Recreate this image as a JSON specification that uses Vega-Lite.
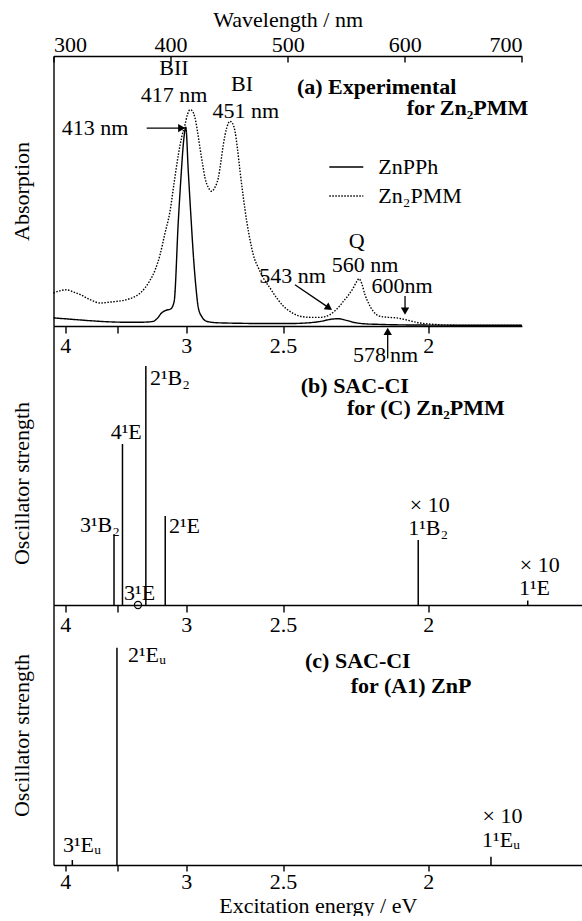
{
  "$schema": "https://vega.github.io/schema/vega-lite/v6.json",
  "background": "white",
  "padding": {"left": 10.5, "top": 8, "right": 0, "bottom": 0},
  "autosize": {"type": "pad"},
  "spacing": 0,
  "bounds": "flush",
  "resolve": {"scale": {"x": "independent", "y": "independent"}},
  "config": {
    "font": "Liberation Serif",
    "view": {"stroke": null},
    "axis": {"grid": false, "labelFont": "Liberation Serif", "labelFontSize": 22, "titleFont": "Liberation Serif", "titleFontSize": 22, "titleFontWeight": "normal", "domainColor": "black", "tickColor": "black", "labelColor": "black", "titleColor": "black", "domainWidth": 1.4, "tickWidth": 1.4},
    "text": {"font": "Liberation Serif", "fontSize": 22, "color": "black"},
    "legend": {"labelFont": "Liberation Serif", "labelFontSize": 22, "labelColor": "black"}
  },
  "vconcat": [
    {
      "width": 468.4,
      "height": 270,
      "encoding": {
        "y": {"field": "abs", "type": "quantitative", "scale": {"domain": [0, 1], "nice": false, "zero": false}, "axis": {"title": "Absorption", "labels": false, "ticks": false, "titlePadding": 20}}
      },
      "resolve": {"axis": {"x": "independent"}},
      "layer": [
        {
          "data": {"values": [
            {"series": "ZnPPh", "nm": 300, "abs": 0.030}, {"series": "ZnPPh", "nm": 315, "abs": 0.025}, {"series": "ZnPPh", "nm": 330, "abs": 0.020}, {"series": "ZnPPh", "nm": 345, "abs": 0.016}, {"series": "ZnPPh", "nm": 360, "abs": 0.014}, {"series": "ZnPPh", "nm": 375, "abs": 0.014}, {"series": "ZnPPh", "nm": 385, "abs": 0.017}, {"series": "ZnPPh", "nm": 389, "abs": 0.030}, {"series": "ZnPPh", "nm": 392, "abs": 0.047}, {"series": "ZnPPh", "nm": 396, "abs": 0.058}, {"series": "ZnPPh", "nm": 400, "abs": 0.063}, {"series": "ZnPPh", "nm": 403, "abs": 0.090}, {"series": "ZnPPh", "nm": 406.6, "abs": 0.39}, {"series": "ZnPPh", "nm": 409, "abs": 0.56}, {"series": "ZnPPh", "nm": 411, "abs": 0.68}, {"series": "ZnPPh", "nm": 413, "abs": 0.736}, {"series": "ZnPPh", "nm": 415.1, "abs": 0.573}, {"series": "ZnPPh", "nm": 417.3, "abs": 0.41}, {"series": "ZnPPh", "nm": 419.4, "abs": 0.264}, {"series": "ZnPPh", "nm": 421.5, "abs": 0.15}, {"series": "ZnPPh", "nm": 423.7, "abs": 0.067}, {"series": "ZnPPh", "nm": 427, "abs": 0.032}, {"series": "ZnPPh", "nm": 431, "abs": 0.017}, {"series": "ZnPPh", "nm": 440, "abs": 0.012}, {"series": "ZnPPh", "nm": 460, "abs": 0.010}, {"series": "ZnPPh", "nm": 480, "abs": 0.009}, {"series": "ZnPPh", "nm": 500, "abs": 0.009}, {"series": "ZnPPh", "nm": 515, "abs": 0.011}, {"series": "ZnPPh", "nm": 528, "abs": 0.017}, {"series": "ZnPPh", "nm": 537, "abs": 0.025}, {"series": "ZnPPh", "nm": 543, "abs": 0.027}, {"series": "ZnPPh", "nm": 550, "abs": 0.021}, {"series": "ZnPPh", "nm": 558, "abs": 0.012}, {"series": "ZnPPh", "nm": 566, "abs": 0.008}, {"series": "ZnPPh", "nm": 578, "abs": 0.006}, {"series": "ZnPPh", "nm": 600, "abs": 0.004}, {"series": "ZnPPh", "nm": 650, "abs": 0.003}, {"series": "ZnPPh", "nm": 700, "abs": 0.003},
            {"series": "Zn₂PMM", "nm": 300, "abs": 0.122}, {"series": "Zn₂PMM", "nm": 305, "abs": 0.130}, {"series": "Zn₂PMM", "nm": 311, "abs": 0.134}, {"series": "Zn₂PMM", "nm": 317, "abs": 0.126}, {"series": "Zn₂PMM", "nm": 323, "abs": 0.116}, {"series": "Zn₂PMM", "nm": 331, "abs": 0.098}, {"series": "Zn₂PMM", "nm": 340, "abs": 0.085}, {"series": "Zn₂PMM", "nm": 347, "abs": 0.088}, {"series": "Zn₂PMM", "nm": 354, "abs": 0.091}, {"series": "Zn₂PMM", "nm": 360, "abs": 0.095}, {"series": "Zn₂PMM", "nm": 365, "abs": 0.101}, {"series": "Zn₂PMM", "nm": 370, "abs": 0.110}, {"series": "Zn₂PMM", "nm": 374, "abs": 0.122}, {"series": "Zn₂PMM", "nm": 378, "abs": 0.140}, {"series": "Zn₂PMM", "nm": 382, "abs": 0.166}, {"series": "Zn₂PMM", "nm": 387, "abs": 0.210}, {"series": "Zn₂PMM", "nm": 391, "abs": 0.264}, {"series": "Zn₂PMM", "nm": 395, "abs": 0.340}, {"series": "Zn₂PMM", "nm": 399.5, "abs": 0.425}, {"series": "Zn₂PMM", "nm": 403, "abs": 0.530}, {"series": "Zn₂PMM", "nm": 406.6, "abs": 0.634}, {"series": "Zn₂PMM", "nm": 409.5, "abs": 0.700}, {"series": "Zn₂PMM", "nm": 412.3, "abs": 0.746}, {"series": "Zn₂PMM", "nm": 414.5, "abs": 0.785}, {"series": "Zn₂PMM", "nm": 416.6, "abs": 0.801}, {"series": "Zn₂PMM", "nm": 418.8, "abs": 0.795}, {"series": "Zn₂PMM", "nm": 420.9, "abs": 0.770}, {"series": "Zn₂PMM", "nm": 423, "abs": 0.720}, {"series": "Zn₂PMM", "nm": 425.1, "abs": 0.659}, {"series": "Zn₂PMM", "nm": 427.3, "abs": 0.600}, {"series": "Zn₂PMM", "nm": 429.4, "abs": 0.548}, {"series": "Zn₂PMM", "nm": 432, "abs": 0.515}, {"series": "Zn₂PMM", "nm": 435.1, "abs": 0.499}, {"series": "Zn₂PMM", "nm": 438, "abs": 0.515}, {"series": "Zn₂PMM", "nm": 440.7, "abs": 0.548}, {"series": "Zn₂PMM", "nm": 443, "abs": 0.610}, {"series": "Zn₂PMM", "nm": 445, "abs": 0.671}, {"series": "Zn₂PMM", "nm": 448, "abs": 0.735}, {"series": "Zn₂PMM", "nm": 450.7, "abs": 0.758}, {"series": "Zn₂PMM", "nm": 453, "abs": 0.750}, {"series": "Zn₂PMM", "nm": 455, "abs": 0.721}, {"series": "Zn₂PMM", "nm": 457, "abs": 0.660}, {"series": "Zn₂PMM", "nm": 459.3, "abs": 0.573}, {"series": "Zn₂PMM", "nm": 462, "abs": 0.480}, {"series": "Zn₂PMM", "nm": 465, "abs": 0.388}, {"series": "Zn₂PMM", "nm": 468, "abs": 0.315}, {"series": "Zn₂PMM", "nm": 470.6, "abs": 0.264}, {"series": "Zn₂PMM", "nm": 475, "abs": 0.215}, {"series": "Zn₂PMM", "nm": 479.2, "abs": 0.178}, {"series": "Zn₂PMM", "nm": 485, "abs": 0.140}, {"series": "Zn₂PMM", "nm": 490.6, "abs": 0.104}, {"series": "Zn₂PMM", "nm": 496, "abs": 0.075}, {"series": "Zn₂PMM", "nm": 502, "abs": 0.054}, {"series": "Zn₂PMM", "nm": 510.5, "abs": 0.036}, {"series": "Zn₂PMM", "nm": 520, "abs": 0.032}, {"series": "Zn₂PMM", "nm": 527.6, "abs": 0.032}, {"series": "Zn₂PMM", "nm": 532, "abs": 0.035}, {"series": "Zn₂PMM", "nm": 536.1, "abs": 0.042}, {"series": "Zn₂PMM", "nm": 540, "abs": 0.055}, {"series": "Zn₂PMM", "nm": 544, "abs": 0.072}, {"series": "Zn₂PMM", "nm": 547.5, "abs": 0.091}, {"series": "Zn₂PMM", "nm": 552, "abs": 0.115}, {"series": "Zn₂PMM", "nm": 556, "abs": 0.141}, {"series": "Zn₂PMM", "nm": 559, "abs": 0.165}, {"series": "Zn₂PMM", "nm": 560.9, "abs": 0.175}, {"series": "Zn₂PMM", "nm": 563, "abs": 0.160}, {"series": "Zn₂PMM", "nm": 566, "abs": 0.116}, {"series": "Zn₂PMM", "nm": 569, "abs": 0.085}, {"series": "Zn₂PMM", "nm": 573.1, "abs": 0.054}, {"series": "Zn₂PMM", "nm": 578.8, "abs": 0.036}, {"series": "Zn₂PMM", "nm": 586, "abs": 0.032}, {"series": "Zn₂PMM", "nm": 593, "abs": 0.030}, {"series": "Zn₂PMM", "nm": 600, "abs": 0.024}, {"series": "Zn₂PMM", "nm": 613, "abs": 0.011}, {"series": "Zn₂PMM", "nm": 625, "abs": 0.006}, {"series": "Zn₂PMM", "nm": 636, "abs": 0.003}, {"series": "Zn₂PMM", "nm": 660, "abs": 0.002}, {"series": "Zn₂PMM", "nm": 700, "abs": 0.002}
          ]},
          "mark": {"type": "line", "color": "black", "strokeWidth": 1.4, "interpolate": "monotone"},
          "encoding": {
            "x": {"field": "nm", "type": "quantitative", "scale": {"domain": [300, 700], "nice": false, "zero": false}, "axis": {"orient": "top", "title": "Wavelength / nm", "values": [300, 400, 500, 600, 700], "tickSize": -6, "labelPadding": 6, "titlePadding": 2}},
            "strokeDash": {"field": "series", "type": "nominal", "scale": {"domain": ["ZnPPh", "Zn₂PMM"], "range": [[1, 0], [1.5, 1.5]]}, "legend": {"orient": "none", "legendX": 274.8, "legendY": 93, "title": null, "symbolType": "stroke", "symbolSize": 1156, "symbolStrokeWidth": 1.4, "symbolStrokeColor": "black", "labelOffset": 14, "rowPadding": 0, "padding": 0}}
          }
        },
        {
          "data": {"values": [
            {"label": "BII", "nm": 402.9, "abs": 0.955},
            {"label": "417 nm", "nm": 402.9, "abs": 0.857},
            {"label": "BI", "nm": 461, "abs": 0.895},
            {"label": "451 nm", "nm": 464.2, "abs": 0.795},
            {"label": "Q", "nm": 558.9, "abs": 0.314},
            {"label": "560 nm", "nm": 566, "abs": 0.227},
            {"label": "600nm", "nm": 597.6, "abs": 0.147},
            {"label": "543 nm", "nm": 504.1, "abs": 0.184}
          ]},
          "mark": {"type": "text", "align": "center", "baseline": "middle"},
          "encoding": {
            "x": {"field": "nm", "type": "quantitative", "axis": {"orient": "bottom", "title": null, "values": [310, 354.2857, 413.3333, 496, 620], "labelExpr": "abs(datum.value - 354.2857) < 0.1 ? '' : format(1240 / datum.value, '.2~r')", "tickSize": 7, "labelPadding": 2}},
            "text": {"field": "label"}
          }
        },
        {
          "data": {"values": [
            {"label": "413 nm", "nm": 363.9, "abs": 0.733},
            {"label": "578", "nm": 583.9, "abs": -0.107}
          ]},
          "mark": {"type": "text", "align": "right", "baseline": "middle"},
          "encoding": {
            "x": {"field": "nm", "type": "quantitative", "axis": null},
            "text": {"field": "label"}
          }
        },
        {
          "data": {"values": [
            {"label": "nm", "nm": 587.4, "abs": -0.107}
          ]},
          "mark": {"type": "text", "align": "left", "baseline": "middle"},
          "encoding": {
            "x": {"field": "nm", "type": "quantitative", "axis": null},
            "text": {"field": "label"}
          }
        },
        {
          "data": {"values": [
            {"label": "(a) Experimental", "nm": 507.9, "abs": 0.885},
            {"label": "for Zn₂PMM", "nm": 601.6, "abs": 0.807}
          ]},
          "mark": {"type": "text", "align": "left", "baseline": "middle", "fontWeight": "bold"},
          "encoding": {
            "x": {"field": "nm", "type": "quantitative", "axis": null},
            "text": {"field": "label"}
          }
        },
        {
          "data": {"values": [
            {"arrow": "413 nm", "nm": 379.6, "nm2": 409.5, "abs": 0.733, "abs2": 0.733},
            {"arrow": "543 nm", "nm": 506.2, "nm2": 535.3, "abs": 0.153, "abs2": 0.067},
            {"arrow": "600nm", "nm": 600.2, "nm2": 600.2, "abs": 0.111, "abs2": 0.055},
            {"arrow": "578 nm", "nm": 585.4, "nm2": 585.4, "abs": -0.12, "abs2": -0.02}
          ]},
          "mark": {"type": "rule", "color": "black", "strokeWidth": 1.3},
          "encoding": {
            "x": {"field": "nm", "type": "quantitative", "axis": null},
            "x2": {"field": "nm2"},
            "y2": {"field": "abs2"}
          }
        },
        {
          "data": {"values": [{"arrow": "413 nm", "nm": 409.5, "abs": 0.733}]},
          "mark": {"type": "point", "shape": "triangle-right", "filled": true, "color": "black", "size": 70, "opacity": 1},
          "encoding": {"x": {"field": "nm", "type": "quantitative", "axis": null}}
        },
        {
          "data": {"values": [{"arrow": "543 nm", "nm": 535.3, "abs": 0.067}]},
          "mark": {"type": "point", "shape": "triangle-up", "angle": 124, "filled": true, "color": "black", "size": 70, "opacity": 1},
          "encoding": {"x": {"field": "nm", "type": "quantitative", "axis": null}}
        },
        {
          "data": {"values": [{"arrow": "600nm", "nm": 600.2, "abs": 0.055}]},
          "mark": {"type": "point", "shape": "triangle-down", "filled": true, "color": "black", "size": 70, "opacity": 1},
          "encoding": {"x": {"field": "nm", "type": "quantitative", "axis": null}}
        },
        {
          "data": {"values": [{"arrow": "578 nm", "nm": 585.4, "abs": -0.02}]},
          "mark": {"type": "point", "shape": "triangle-up", "filled": true, "color": "black", "size": 70, "opacity": 1},
          "encoding": {"x": {"field": "nm", "type": "quantitative", "axis": null}}
        }
      ]
    },
    {
      "width": 528.5,
      "height": 279,
      "encoding": {
        "y": {"field": "f", "type": "quantitative", "scale": {"domain": [0, 1], "nice": false, "zero": false}, "axis": {"title": "Oscillator strength", "labels": false, "ticks": false, "titlePadding": 20, "titleY": 157}}
      },
      "resolve": {"axis": {"x": "independent"}},
      "layer": [
        {
          "data": {"values": [
            {"state": "3¹B₂", "eV": 3.526, "f": 0.254},
            {"state": "4¹E", "eV": 3.455, "f": 0.577},
            {"state": "2¹B₂", "eV": 3.273, "f": 0.857},
            {"state": "2¹E", "eV": 3.136, "f": 0.319},
            {"state": "1¹B₂ (×10)", "eV": 2.028, "f": 0.233},
            {"state": "1¹E (×10)", "eV": 1.759, "f": 0.016}
          ]},
          "mark": {"type": "rule", "color": "black", "strokeWidth": 1.5},
          "encoding": {
            "x": {"field": "eV", "type": "quantitative", "scale": {"type": "pow", "exponent": -1, "domain": [4.1333, 1.6505], "nice": false, "zero": false}, "axis": {"orient": "bottom", "title": null, "values": [4, 3.5, 3, 2.5, 2], "labelExpr": "datum.value == 3.5 ? '' : format(datum.value, '~g')", "tickSize": 7, "labelPadding": 2}},
            "y2": {"datum": 0}
          }
        },
        {
          "data": {"values": [{"state": "3¹E", "eV": 3.332, "f": 0}]},
          "mark": {"type": "point", "shape": "circle", "filled": false, "color": "black", "strokeWidth": 1.2, "size": 50, "opacity": 1},
          "encoding": {"x": {"field": "eV", "type": "quantitative", "axis": null}}
        },
        {
          "data": {"values": [
            {"label": "2¹B₂", "eV": 3.243, "f": 0.814},
            {"label": "4¹E", "eV": 3.555, "f": 0.620},
            {"label": "3¹B₂", "eV": 3.844, "f": 0.288},
            {"label": "2¹E", "eV": 3.111, "f": 0.284},
            {"label": "3¹E", "eV": 3.442, "f": 0.043},
            {"label": "× 10", "eV": 2.052, "f": 0.359},
            {"label": "1¹B₂", "eV": 2.057, "f": 0.276},
            {"label": "× 10", "eV": 1.776, "f": 0.144},
            {"label": "1¹E", "eV": 1.778, "f": 0.061}
          ]},
          "mark": {"type": "text", "align": "left", "baseline": "middle"},
          "encoding": {"x": {"field": "eV", "type": "quantitative", "axis": null}, "text": {"field": "label"}}
        },
        {
          "data": {"values": [
            {"label": "(b) SAC-CI", "eV": 2.426, "f": 0.784},
            {"label": "for (C) Zn₂PMM", "eV": 2.252, "f": 0.706}
          ]},
          "mark": {"type": "text", "align": "left", "baseline": "middle", "fontWeight": "bold"},
          "encoding": {"x": {"field": "eV", "type": "quantitative", "axis": null}, "text": {"field": "label"}}
        }
      ]
    },
    {
      "width": 528.5,
      "height": 260,
      "encoding": {
        "y": {"field": "f", "type": "quantitative", "scale": {"domain": [0, 1], "nice": false, "zero": false}, "axis": {"title": "Oscillator strength", "labels": false, "ticks": false, "titlePadding": 20}}
      },
      "resolve": {"axis": {"x": "independent"}},
      "layer": [
        {
          "data": {"values": [
            {"state": "3¹Eᵤ", "eV": 3.923, "f": 0.019},
            {"state": "2¹Eᵤ", "eV": 3.501, "f": 0.836},
            {"state": "1¹Eᵤ (×10)", "eV": 1.841, "f": 0.032}
          ]},
          "mark": {"type": "rule", "color": "black", "strokeWidth": 1.5},
          "encoding": {
            "x": {"field": "eV", "type": "quantitative", "scale": {"type": "pow", "exponent": -1, "domain": [4.1333, 1.6505], "nice": false, "zero": false}, "axis": {"orient": "bottom", "title": "Excitation energy / eV", "values": [4, 3.5, 3, 2.5, 2], "labelExpr": "datum.value == 3.5 ? '' : format(datum.value, '~g')", "tickSize": 6, "labelPadding": 0, "titlePadding": 3}},
            "y2": {"datum": 0}
          }
        },
        {
          "data": {"values": [
            {"label": "2¹Eᵤ", "eV": 3.410, "f": 0.809},
            {"label": "× 10", "eV": 1.861, "f": 0.188},
            {"label": "1¹Eᵤ", "eV": 1.862, "f": 0.097},
            {"label": "3¹Eᵤ", "eV": 4.025, "f": 0.078}
          ]},
          "mark": {"type": "text", "align": "left", "baseline": "middle"},
          "encoding": {"x": {"field": "eV", "type": "quantitative", "axis": null}, "text": {"field": "label"}}
        },
        {
          "data": {"values": [
            {"label": "(c) SAC-CI", "eV": 2.409, "f": 0.785},
            {"label": "for (A1) ZnP", "eV": 2.239, "f": 0.688}
          ]},
          "mark": {"type": "text", "align": "left", "baseline": "middle", "fontWeight": "bold"},
          "encoding": {"x": {"field": "eV", "type": "quantitative", "axis": null}, "text": {"field": "label"}}
        }
      ]
    }
  ]
}
